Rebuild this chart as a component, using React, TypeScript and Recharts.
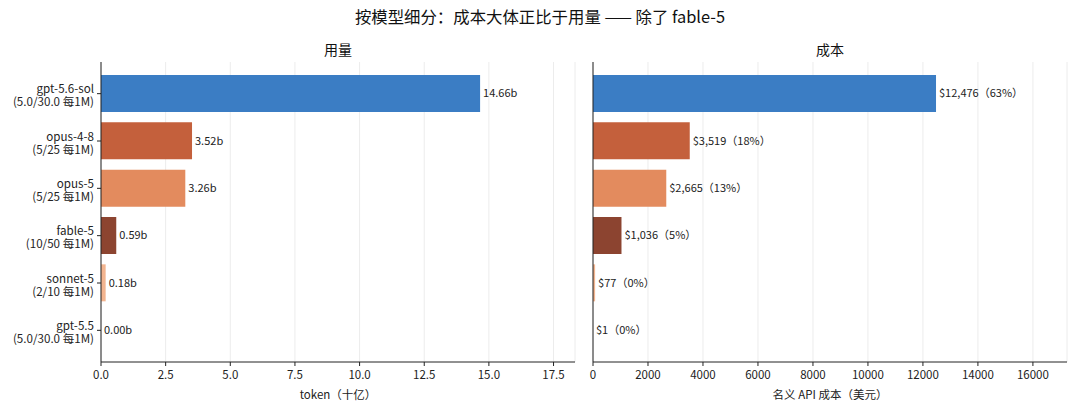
import React from "react";
import {
  BarChart,
  Bar,
  XAxis,
  YAxis,
  CartesianGrid,
  Cell,
  LabelList,
} from "recharts";

const models = ["gpt-5.6-sol", "opus-4-8", "opus-5", "fable-5", "sonnet-5", "gpt-5.5"];
const prices = ["(5.0/30.0 每1M)", "(5/25 每1M)", "(5/25 每1M)", "(10/50 每1M)", "(2/10 每1M)", "(5.0/30.0 每1M)"];
const tokens = [14.66, 3.52, 3.26, 0.59, 0.18, 0.0002];
const costs = [12476, 3519, 2665, 1036, 77, 1];
const colors = ["#3b7dc4", "#c4603c", "#e38b5e", "#8c4430", "#f2b48f", "#9a9a9a"];
const tokenTicks = [0, 2.5, 5, 7.5, 10, 12.5, 15, 17.5];
const costTicks = [0, 2000, 4000, 6000, 8000, 10000, 12000, 14000, 16000];

const FONT = "'Noto Sans CJK SC', 'Noto Sans', sans-serif";
const totalCost = costs.reduce((a, b) => a + b, 0);

const data = models.map((m, i) => ({
  model: m,
  price: prices[i],
  tokens: tokens[i],
  cost: costs[i],
}));

// two-line category label: model name + price
function ModelTick(props: any) {
  const { x, y, payload } = props;
  const row = data.find((d) => d.model === payload.value);
  return (
    <text x={x - 1} y={y} textAnchor="end" fontSize={11.6} fill="#222" fontFamily={FONT}>
      <tspan x={x - 1} dy={-0.5}>{payload.value}</tspan>
      <tspan x={x - 1} dy={13.2}>{row ? row.price : ""}</tspan>
    </text>
  );
}

const tickStyle = { fontSize: 11.5, fill: "#222", fontFamily: FONT };

export default function App() {
  return (
    <div
      style={{
        position: "absolute",
        left: 0,
        top: 0,
        width: 1080,
        height: 414,
        background: "#fff",
        fontFamily: FONT,
      }}
    >
      <div
        style={{
          position: "absolute",
          top: 4,
          width: 1080,
          textAlign: "center",
          fontSize: 16.4,
          color: "#111",
        }}
      >
        按模型细分：成本大体正比于用量 —— 除了 fable-5
      </div>
      <div style={{ position: "absolute", top: 39, left: 101, width: 474, textAlign: "center", fontSize: 14, color: "#111" }}>
        用量
      </div>
      <div style={{ position: "absolute", top: 39, left: 593, width: 474, textAlign: "center", fontSize: 14, color: "#111" }}>
        成本
      </div>

      <div style={{ position: "absolute", left: 0, top: 0 }}>
        <BarChart
          width={580}
          height={414}
          data={data}
          layout="vertical"
          margin={{ top: 62, right: 5, bottom: 0, left: 0 }}
          barSize={37}
        >
          <CartesianGrid horizontal={false} stroke="#ececec" />
          <XAxis
            type="number"
            dataKey="tokens"
            domain={[0, 18.33]}
            ticks={tokenTicks}
            tickFormatter={(v: number) => v.toFixed(1)}
            tick={tickStyle}
            axisLine={{ stroke: "#222" }}
            tickLine={{ stroke: "#222" }}
            tickSize={4}
            tickMargin={5}
            height={52}
            allowDataOverflow
            label={{ value: "token（十亿）", position: "insideBottom", offset: 15, fontSize: 11.5, fill: "#222" }}
          />
          <YAxis
            type="category"
            dataKey="model"
            width={101}
            tick={<ModelTick />}
            axisLine={{ stroke: "#222" }}
            tickLine={{ stroke: "#222" }}
            tickSize={4}
            padding={{ top: 8, bottom: 8 }}
            interval={0}
          />
          <Bar dataKey="tokens" isAnimationActive={false}>
            {data.map((d, i) => (
              <Cell key={d.model} fill={colors[i]} />
            ))}
            <LabelList
              dataKey="tokens"
              position="right"
              offset={3}
              formatter={(v: any) => `${Number(v).toFixed(2)}b`}
              style={{ fontSize: 11, fill: "#222", fontFamily: FONT }}
            />
          </Bar>
        </BarChart>
      </div>

      <div style={{ position: "absolute", left: 580, top: 0 }}>
        <BarChart
          width={500}
          height={414}
          data={data}
          layout="vertical"
          margin={{ top: 62, right: 13, bottom: 0, left: 0 }}
          barSize={37}
        >
          <CartesianGrid horizontal={false} stroke="#ececec" />
          <XAxis
            type="number"
            dataKey="cost"
            domain={[0, 17240]}
            ticks={costTicks}
            tick={tickStyle}
            axisLine={{ stroke: "#222" }}
            tickLine={{ stroke: "#222" }}
            tickSize={4}
            tickMargin={5}
            height={52}
            allowDataOverflow
            label={{ value: "名义 API 成本（美元）", position: "insideBottom", offset: 15, fontSize: 11.5, fill: "#222" }}
          />
          <YAxis
            type="category"
            dataKey="model"
            width={13}
            tick={false}
            axisLine={{ stroke: "#222" }}
            tickLine={{ stroke: "#222" }}
            tickSize={4}
            padding={{ top: 8, bottom: 8 }}
            interval={0}
          />
          <Bar dataKey="cost" isAnimationActive={false}>
            {data.map((d, i) => (
              <Cell key={d.model} fill={colors[i]} />
            ))}
            <LabelList
              dataKey="cost"
              position="right"
              offset={3}
              formatter={(v: any) =>
                `$${Number(v).toLocaleString("en-US")}（${Math.round((Number(v) / totalCost) * 100)}%）`
              }
              style={{ fontSize: 11, fill: "#222", fontFamily: FONT }}
            />
          </Bar>
        </BarChart>
      </div>
    </div>
  );
}
